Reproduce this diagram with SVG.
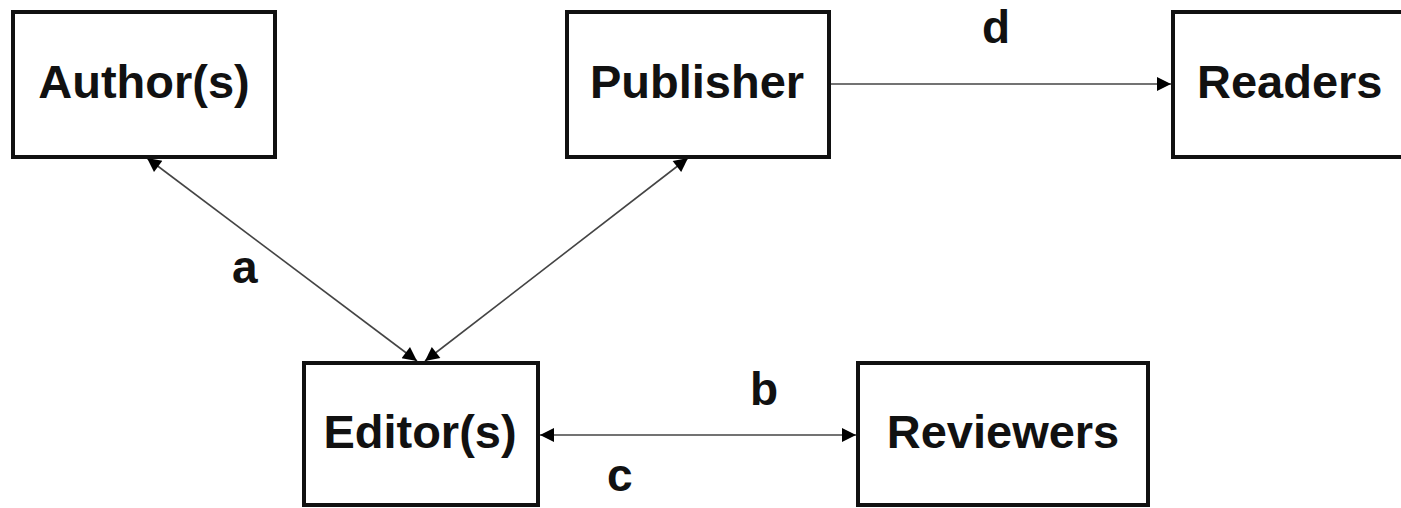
<svg xmlns="http://www.w3.org/2000/svg" width="1401" height="508" viewBox="0 0 1401 508">
<style>
.box{fill:#fff;stroke:#111;stroke-width:4}
.t{font-family:"Liberation Sans",Arial,sans-serif;font-weight:bold;font-size:47px;fill:#111}
.lbl{font-family:"Liberation Sans",Arial,sans-serif;font-weight:bold;font-size:46px;fill:#111}
.c{stroke:#444;stroke-width:1.6;fill:none;marker-end:url(#ah)}
.c2{marker-start:url(#ah)}
</style>
<defs>
<marker id="ah" viewBox="0 0 10 10" refX="10" refY="5" markerUnits="userSpaceOnUse" markerWidth="17" markerHeight="14" orient="auto-start-reverse">
<path d="M0,0 L10,5 L0,10 Z" fill="#000"/>
</marker>
</defs>
<g id="connectors">
<line class="c c2" x1="147" y1="158" x2="417" y2="361"/>
<line class="c c2" x1="688" y1="158" x2="425" y2="361"/>
<line class="c" x1="831" y1="84" x2="1171" y2="84"/>
<line class="c c2" x1="540" y1="435" x2="856" y2="435"/>
<text class="lbl" x="232" y="283">a</text>
<text class="lbl" x="750" y="405">b</text>
<text class="lbl" x="607" y="491">c</text>
<text class="lbl" x="982" y="43">d</text>
</g>
<g id="author"><rect class="box" x="13" y="12" width="262" height="145"/><text class="t" x="144" y="98" text-anchor="middle">Author(s)</text></g>
<g id="publisher"><rect class="box" x="567" y="12" width="262" height="145"/><text class="t" x="697" y="98" text-anchor="middle">Publisher</text></g>
<g id="readers"><rect class="box" x="1173" y="12" width="240" height="145"/><text class="t" x="1197" y="98">Readers</text></g>
<g id="editor"><rect class="box" x="304" y="363" width="234" height="142"/><text class="t" x="420" y="448" text-anchor="middle">Editor(s)</text></g>
<g id="reviewers"><rect class="box" x="858" y="363" width="290" height="142"/><text class="t" x="1003" y="448" text-anchor="middle">Reviewers</text></g>
</svg>
